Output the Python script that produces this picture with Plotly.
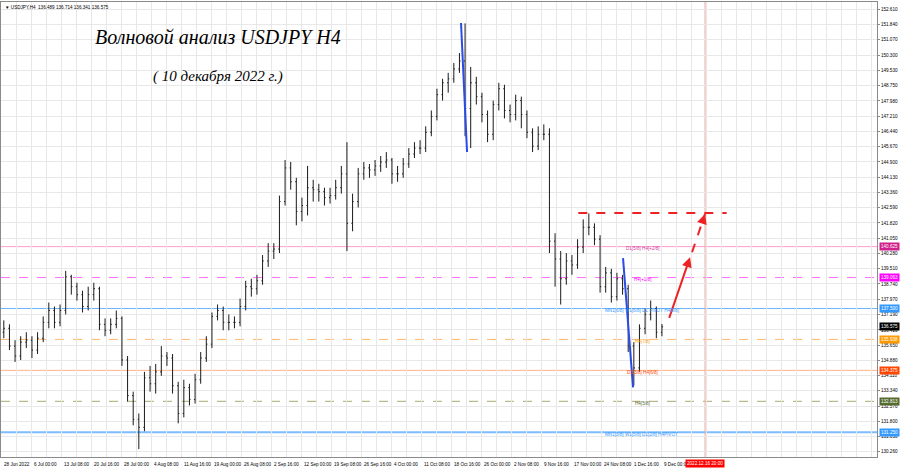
import plotly.graph_objects as go

# ---------------- data ----------------
opens = [136.3, 136.5, 135.6, 135.1, 135.8, 135.9, 135.4, 136.0, 136.8, 137.4,
         136.8, 137.4, 139.1, 138.6, 138.2, 137.6, 138.2, 138.5, 136.7, 136.4,
         136.7, 137.0, 134.9, 133.1, 131.9, 131.5, 134.0, 133.7, 134.3, 135.1,
         135.0, 133.6, 132.2, 133.5, 132.9, 133.9, 135.0, 135.7, 137.1, 137.4,
         136.8, 136.8, 136.8, 137.6, 138.6, 138.5, 138.9, 139.9, 140.4, 140.5,
         142.9, 144.6, 143.9, 142.4, 142.7, 143.6, 143.5, 143.4, 143.1, 143.2,
         143.6, 144.3, 141.8, 142.9, 144.3, 144.6, 144.5, 144.7, 144.9, 145.0,
         144.3, 144.3, 144.8, 145.3, 145.6, 145.6, 146.4, 147.2, 148.3, 148.9,
         149.1, 149.6, 150.0, 147.6, 148.9, 148.2, 147.3, 146.3, 147.8, 148.6,
         147.5, 147.3, 148.0, 147.3, 146.4, 145.7, 146.3, 146.3, 140.9, 140.0,
         139.0, 139.9, 139.7, 140.6, 141.6, 141.6, 141.0, 138.6, 139.3, 138.1,
         139.0, 138.5, 135.6, 134.5, 136.5, 137.2, 137.5, 136.3]
highs = [136.9, 136.7, 135.9, 136.1, 136.3, 136.1, 136.3, 137.1, 137.8, 137.6,
         137.7, 139.4, 139.2, 138.8, 138.4, 138.6, 138.8, 138.6, 137.0, 137.0,
         137.4, 137.1, 135.1, 133.3, 132.2, 134.3, 134.6, 134.7, 135.6, 135.3,
         135.2, 133.8, 133.9, 133.7, 134.2, 135.3, 136.1, 137.3, 137.7, 137.6,
         137.2, 137.1, 138.0, 138.9, 139.0, 139.2, 140.2, 140.8, 140.8, 143.2,
         145.0, 144.9, 144.1, 143.1, 144.7, 144.0, 143.8, 143.6, 143.6, 144.0,
         144.7, 145.9, 143.3, 144.6, 144.9, 144.8, 145.0, 145.2, 145.4, 145.1,
         144.7, 145.1, 145.6, 145.9, 146.0, 146.7, 147.5, 148.6, 149.1, 149.4,
         149.9, 150.4, 151.9, 149.7, 149.2, 148.4, 147.5, 148.0, 148.9, 148.8,
         147.8, 148.3, 148.2, 147.5, 146.6, 146.7, 146.8, 146.6, 141.3, 140.4,
         140.3, 140.2, 141.0, 142.0, 142.3, 141.8, 141.2, 139.6, 139.5, 139.3,
         139.2, 138.7, 135.8, 136.7, 137.5, 137.9, 137.6, 136.714]
lows = [136.0, 135.4, 134.8, 134.9, 135.5, 135.0, 135.2, 135.8, 136.5, 136.5,
        136.6, 137.2, 138.2, 137.9, 137.3, 137.4, 137.9, 136.4, 136.1, 136.2,
        136.5, 134.6, 132.8, 131.6, 130.4, 131.3, 133.3, 133.2, 134.1, 134.6,
        133.2, 131.7, 132.0, 132.6, 132.7, 133.7, 134.8, 135.5, 136.9, 136.4,
        136.4, 136.5, 136.6, 137.4, 138.1, 138.2, 138.7, 139.6, 140.0, 140.3,
        142.7, 143.5, 141.7, 141.9, 142.2, 142.9, 142.9, 142.7, 142.8, 143.0,
        143.3, 140.4, 141.4, 142.6, 144.0, 144.1, 144.2, 144.4, 144.6, 143.8,
        143.9, 144.1, 144.6, 145.1, 145.3, 145.4, 146.2, 147.0, 148.0, 148.4,
        148.9, 149.4, 146.2, 145.6, 147.8, 146.9, 145.9, 146.0, 147.5, 147.1,
        146.9, 147.0, 146.6, 146.1, 145.4, 145.5, 146.0, 140.3, 138.6, 137.7,
        138.7, 139.2, 139.5, 140.3, 141.2, 140.7, 138.3, 138.3, 137.8, 137.9,
        138.2, 135.3, 133.6, 134.3, 136.2, 136.9, 136.0, 136.1]
closes = [136.5, 135.6, 135.1, 135.8, 135.9, 135.4, 136.0, 136.8, 137.4, 136.8,
          137.4, 139.1, 138.6, 138.2, 137.6, 138.2, 138.5, 136.7, 136.4, 136.7,
          137.0, 134.9, 133.1, 131.9, 131.5, 134.0, 133.7, 134.3, 135.1, 135.0,
          133.6, 132.2, 133.5, 132.9, 133.9, 135.0, 135.7, 137.1, 137.4, 136.8,
          136.8, 136.8, 137.6, 138.6, 138.5, 138.9, 139.9, 140.4, 140.5, 142.9,
          144.6, 143.9, 142.4, 142.7, 143.6, 143.5, 143.4, 143.1, 143.2, 143.6,
          144.3, 141.8, 142.9, 144.3, 144.6, 144.5, 144.7, 144.9, 145.0, 144.3,
          144.3, 144.8, 145.3, 145.6, 145.6, 146.4, 147.2, 148.3, 148.9, 149.1,
          149.6, 150.0, 147.6, 148.9, 148.2, 147.3, 146.3, 147.8, 148.6, 147.5,
          147.3, 148.0, 147.3, 146.4, 145.7, 146.3, 146.3, 140.9, 140.0, 139.0,
          139.9, 139.7, 140.6, 141.6, 141.6, 141.0, 138.6, 139.3, 138.1, 139.0,
          138.5, 135.6, 134.5, 136.5, 137.2, 137.5, 136.3, 136.575]
days = list(range(len(closes)))

time_labels = ["28 Jun 2022", "6 Jul 00:00", "13 Jul 08:00", "20 Jul 16:00", "28 Jul 00:00",
               "4 Aug 08:00", "11 Aug 16:00", "19 Aug 00:00", "26 Aug 08:00", "2 Sep 16:00",
               "12 Sep 00:00", "19 Sep 08:00", "26 Sep 16:00", "4 Oct 00:00", "11 Oct 08:00",
               "18 Oct 16:00", "26 Oct 00:00", "2 Nov 08:00", "9 Nov 16:00", "17 Nov 00:00",
               "24 Nov 08:00", "1 Dec 16:00", "9 Dec 00:00"]
BARS_PER_LABEL = 32   # H4 bars between time labels
BARS_PER_DAY = 6

price_ticks = [152.610, 151.840, 151.070, 150.300, 149.530, 148.750, 147.980, 147.210,
               146.440, 145.670, 144.900, 144.130, 143.360, 142.590, 141.820, 141.050,
               140.280, 139.510, 138.740, 137.970, 137.190, 136.420, 135.650, 134.880,
               134.110, 133.340, 132.570, 131.800, 131.030, 130.260]

levels = [140.625, 139.063, 137.500, 135.938, 134.375, 132.813, 131.250]
level_names = ["D1[5/8] H4[+2/8]", "H4[+1/8]", "MN1[6/8] W1[6/8] D1 PIVOT H4[8/8]",
               "H4[7/8]", "D1[3/8] H4[6/8]", "H4[5/8]", "MN1[5/8] W1[5/8] D1[2/8] H4PIVOT"]
level_label_day = [110.3, 111.7, 106.5, 111.9, 110.4, 111.9, 106.6]
level_line_col = ["#ff9ccf", "#ff70ff", "#6cb6ff", "#ffb870", "#ffb488", "#a8a870", "#7cbcff"]
level_dash = ["solid", "dash", "solid", "dash", "solid", "dash", "solid"]
level_width = [1, 1, 1.2, 1, 1, 1, 2]
level_txt_col = ["#d63a9a", "#ff00ff", "#3399ff", "#ff9900", "#ff4500", "#556b2f", "#3399ff"]
level_box_col = ["#d0208c", "#ff00ff", "#3399ff", "#ff9900", "#ff4500", "#556b2f", "#3399ff"]

last_price = 136.575
header = "▼ USDJPY,H4  136.489 136.714 136.341 136.575"
future_label = "2022.12.16 20:00"
future_day = 124.66

# wave drawings (day, price)
blue_wave1 = ([81.28, 82.35], [151.92, 145.40])
blue_wave2 = ([110.08, 111.86], [140.04, 133.52])
red_solid = ([118.2, 122.0], [136.95, 140.09])
red_dashed = ([122.35, 124.66], [140.34, 142.27])
target_level = 142.32
target_span = [102.13, 128.5]

# ---------------- figure ----------------
small = dict(family="Liberation Sans", size=4.6, color="#000000")

fig = go.Figure()
fig.add_trace(go.Ohlc(
    x=days, open=opens, high=highs, low=lows, close=closes,
    increasing=dict(line=dict(color="#1a1a1a", width=1)),
    decreasing=dict(line=dict(color="#1a1a1a", width=1)),
    tickwidth=0.2, hoverinfo="skip", showlegend=False))

shapes = []
for lv, col, dsh, w in zip(levels, level_line_col, level_dash, level_width):
    shapes.append(dict(type="line", xref="paper", x0=0, x1=1, yref="y", y0=lv, y1=lv,
                       line=dict(color=col, width=w, dash=dsh), layer="below"))
shapes.append(dict(type="line", xref="x", x0=future_day, x1=future_day, yref="paper", y0=0, y1=1,
                   line=dict(color="#e8a8a0", width=1), layer="below"))
for xs, ys in (blue_wave1, blue_wave2):
    shapes.append(dict(type="line", xref="x", yref="y", x0=xs[0], x1=xs[1], y0=ys[0], y1=ys[1],
                       line=dict(color="#2a4be6", width=2)))
shapes.append(dict(type="line", xref="x", yref="y", x0=target_span[0], x1=target_span[1],
                   y0=target_level, y1=target_level, line=dict(color="#ee2222", width=2, dash="dash")))
shapes.append(dict(type="line", xref="x", yref="y", x0=red_dashed[0][0], x1=red_dashed[0][1],
                   y0=red_dashed[1][0], y1=red_dashed[1][1],
                   line=dict(color="#ee2222", width=2, dash="dash")))

ann = []
ann.append(dict(x=red_solid[0][1], y=red_solid[1][1], ax=red_solid[0][0], ay=red_solid[1][0],
                xref="x", yref="y", axref="x", ayref="y", showarrow=True, arrowhead=2,
                arrowsize=1, arrowwidth=2, arrowcolor="#ee2222", text=""))
ann.append(dict(x=red_dashed[0][1], y=red_dashed[1][1],
                ax=red_dashed[0][1] - 0.35, ay=red_dashed[1][1] - 0.3,
                xref="x", yref="y", axref="x", ayref="y", showarrow=True, arrowhead=2,
                arrowsize=1, arrowwidth=2, arrowcolor="#ee2222", text=""))

for lv, name, d, tc in zip(levels, level_names, level_label_day, level_txt_col):
    ann.append(dict(x=d, y=lv, xref="x", yref="y", text=name, showarrow=False,
                    xanchor="left", yanchor="middle", yshift=-2,
                    font=dict(family="Liberation Sans", size=4.6, color=tc)))

for lv, bc in zip(levels, level_box_col):
    ann.append(dict(x=1, y=lv, xref="paper", yref="y", text=f"{lv:.3f}", showarrow=False,
                    xanchor="left", yanchor="middle", xshift=2, bgcolor=bc, borderpad=1,
                    font=dict(family="Liberation Sans", size=4.6, color="#ffffff")))
ann.append(dict(x=1, y=last_price, xref="paper", yref="y", text=f"{last_price:.3f}", showarrow=False,
                xanchor="left", yanchor="middle", xshift=2, bgcolor="#000000", borderpad=1,
                font=dict(family="Liberation Sans", size=4.6, color="#ffffff")))

for k, lab in enumerate(time_labels):
    pos = k * BARS_PER_LABEL / BARS_PER_DAY - 0.5
    ann.append(dict(x=pos, y=0, xref="x", yref="paper", text=lab, showarrow=False,
                    xanchor="left", yanchor="top", yshift=-3, xshift=1, font=small))
ann.append(dict(x=future_day, y=0, xref="x", yref="paper", text=future_label, showarrow=False,
                xanchor="center", yanchor="top", yshift=-2, bgcolor="#ff0000", borderpad=1,
                font=dict(family="Liberation Sans", size=4.6, color="#ffffff")))

ann.append(dict(x=0, y=1, xref="paper", yref="paper", text=header, showarrow=False,
                xanchor="left", yanchor="top", xshift=2, yshift=-1, font=small))
ann.append(dict(x=218, y=37, xref="paper", yref="paper", text="Волновой анализ USDJPY H4",
                showarrow=False, xanchor="center", yanchor="middle",
                font=dict(family="Liberation Serif", size=20, color="#000000", style="italic")))
ann.append(dict(x=218, y=77, xref="paper", yref="paper", text="( 10 декабря 2022 г.)",
                showarrow=False, xanchor="center", yanchor="middle",
                font=dict(family="Liberation Serif", size=15, color="#000000", style="italic")))

W, H = 900, 468
ML, MR, MT, MB = 1, 23, 2, 11
pw, ph = W - ML - MR, H - MT - MB
for a in ann[-2:]:
    a["x"] = (a["x"] - ML) / pw
    a["y"] = 1 - (a["y"] - MT) / ph

fig.update_layout(
    width=W, height=H, margin=dict(l=ML, r=MR, t=MT, b=MB),
    paper_bgcolor="#ffffff", plot_bgcolor="#ffffff",
    shapes=shapes, annotations=ann, showlegend=False,
    xaxis=dict(range=[-0.5, 155.23], rangeslider=dict(visible=False),
               showticklabels=False, tick0=-0.5, dtick=16 / BARS_PER_DAY,
               showgrid=True, gridcolor="#e8e8e8", gridwidth=1, zeroline=False,
               showline=True, linecolor="#8a8a8a", linewidth=1, mirror=True, ticks=""),
    yaxis=dict(range=[130.0, 152.979], side="right", tickmode="array",
               tickvals=price_ticks, ticktext=[f"{p:.3f}" for p in price_ticks],
               tickfont=dict(family="Liberation Sans", size=4.6, color="#000000"),
               ticks="outside", ticklen=2, tickcolor="#8a8a8a",
               showgrid=True, gridcolor="#e8e8e8", gridwidth=1, zeroline=False,
               showline=True, linecolor="#8a8a8a", linewidth=1, mirror=True),
)

fig.write_html("out.html", config={"displayModeBar": False},
               post_script="document.body.style.margin='0';document.body.style.overflow='hidden';")
